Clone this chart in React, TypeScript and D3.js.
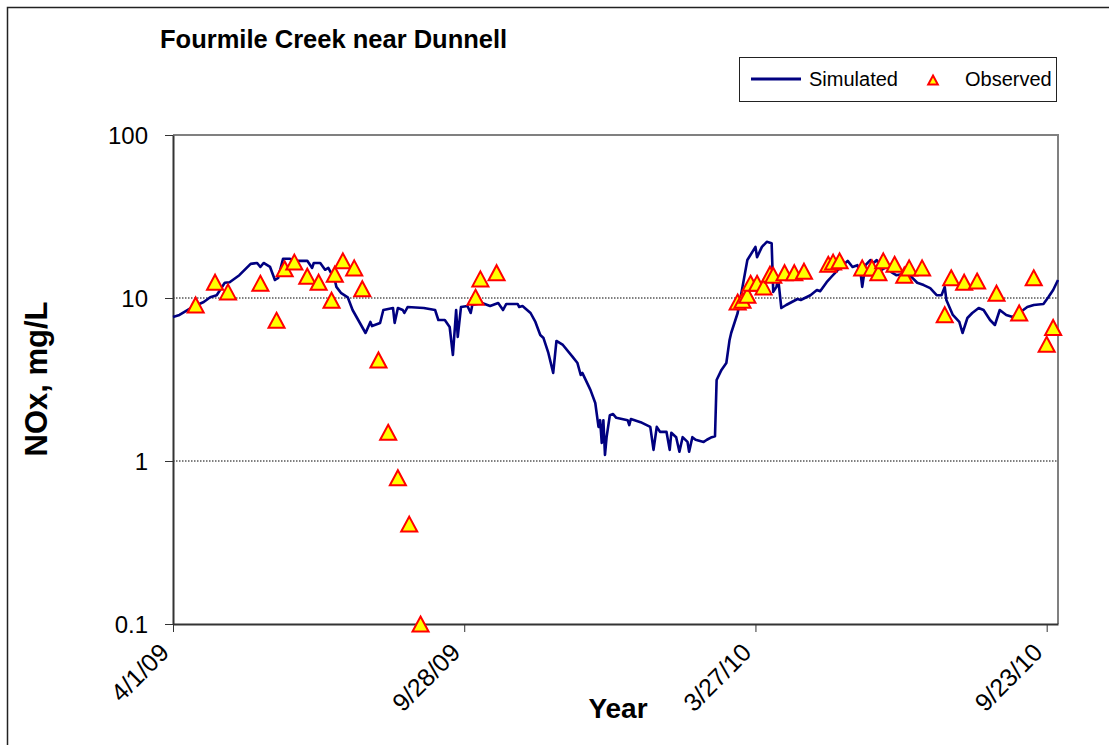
import { select, scaleLog, scaleUtc, axisLeft, axisBottom, line } from 'd3';
import { useEffect, useRef } from 'react';

// days counted from 4/1/09
const startDate = Date.UTC(2009, 3, 1);
const dayToDate = (d: number) => new Date(startDate + d * 86400000);
const lastDay = 547;

const simDays = [
  0, 4, 12, 19, 23, 27, 32, 35, 41, 48, 52, 54, 56, 60, 63, 65, 68, 72, 77, 83,
  86, 87, 91, 94, 96, 100, 101, 104, 108, 111, 119, 122, 123, 128, 130, 136, 137, 139, 142, 143,
  145, 155, 162, 164, 168, 171, 173, 175, 176, 178, 182, 184, 185, 191, 196, 201, 204, 206, 213, 214,
  216, 221, 224, 227, 229, 232, 235, 237, 241, 247, 250, 252, 253, 258, 261, 263, 264, 265, 266, 267,
  268, 270, 272, 274, 281, 282, 283, 289, 295, 297, 299, 301, 305, 307, 308, 311, 313, 315, 318, 319,
  321, 323, 328, 330, 333, 335, 336, 339, 342, 344, 345, 349, 352, 355, 360, 361, 364, 367, 370, 371,
  373, 374, 376, 379, 386, 388, 394, 398, 400, 404, 407, 411, 417, 420, 423, 425, 426, 428, 431, 433,
  435, 438, 441, 444, 447, 454, 457, 460, 464, 468, 472, 475, 477, 478, 482, 486, 488, 491, 494, 498,
  501, 505, 508, 511, 515, 519, 523, 528, 532, 538, 541, 544, 547
];
const simValues = [
  7.65, 7.87, 8.8, 9.45, 10.1, 10.4, 12.4, 12.5, 13.8, 16.2, 16.4, 15.5, 16.4, 15.5, 12.9, 13.3, 17.4, 17.4, 16.9, 16.9,
  15.3, 16.4, 16.4, 14.9, 15.3, 12.9, 11.7, 10.7, 10.1, 8.44, 6.1, 7.13, 6.73, 7.03, 8.44, 8.68, 7.03, 8.68, 8.44, 8.09,
  8.8, 8.68, 8.44, 7.33, 7.33, 6.64, 4.47, 8.44, 5.77, 8.8, 8.93, 8.09, 9.06, 9.32, 8.93, 9.32, 8.44, 9.19, 9.19, 8.8,
  8.93, 8.09, 7.13, 5.93, 5.68, 4.6, 3.47, 5.45, 5.15, 4.35, 3.99, 3.37, 3.47, 2.73, 2.27, 1.62, 1.78, 1.29, 1.78, 1.09,
  1.4, 1.91, 1.94, 1.84, 1.78, 1.66, 1.81, 1.73, 1.62, 1.17, 1.62, 1.51, 1.51, 1.17, 1.49, 1.4, 1.14, 1.4, 1.31, 1.14,
  1.4, 1.35, 1.31, 1.35, 1.4, 1.42, 3.14, 3.62, 3.99, 5.53, 6.1, 8.09, 11.7, 17.1, 20.6, 17.8, 20.6, 22.1, 21.7, 10.9,
  11.7, 13.3, 8.68, 9.06, 9.86, 9.72, 10.4, 11.2, 11.0, 12.5, 13.5, 14.9, 16.9, 15.5, 15.9, 14.2, 11.7, 15.9, 17.1, 16.4,
  17.1, 14.9, 15.5, 14.4, 13.8, 14.2, 13.3, 12.4, 12.0, 11.5, 10.4, 10.4, 11.7, 9.72, 7.87, 7.13, 6.1, 7.54, 8.09, 8.68,
  8.44, 7.33, 6.83, 8.44, 7.87, 7.65, 8.09, 8.8, 9.06, 9.19, 10.1, 11.2, 12.9
];

const obsDays = [
  14, 26, 34, 54, 64, 69, 75, 83, 90, 98, 100, 105, 112, 117, 127, 133, 139, 146, 153, 187,
  190, 200, 349, 352, 355, 357, 361, 365, 369, 371, 378, 384, 390, 405, 408, 412, 426, 432, 436, 439,
  446, 452, 455, 463, 477, 481, 489, 497, 509, 523, 532, 540, 544
];
const obsValues = [
  9.06, 12.5, 10.9, 12.3, 7.3, 15.1, 16.6, 13.6, 12.5, 9.7, 14.0, 16.9, 15.3, 11.4, 4.17, 1.5, 0.79, 0.41, 0.1, 10.1,
  13.1, 14.3, 9.45, 9.7, 10.4, 12.3, 12.3, 11.7, 14.0, 13.8, 14.3, 14.3, 14.6, 16.1, 16.6, 16.9, 15.3, 15.3, 14.3, 16.9,
  16.1, 13.8, 15.3, 15.3, 7.9, 13.3, 12.5, 12.7, 10.7, 8.1, 13.3, 5.2, 6.6
];

const xTickDays = [0, 180, 360, 540];
const xTickLabels = ['4/1/09', '9/28/09', '3/27/10', '9/23/10'];
const yTickValues = [0.1, 1, 10, 100];
const yTickLabels = ['0.1', '1', '10', '100'];

const FONT = '"Liberation Sans", Arial, sans-serif';
const NAVY = '#000080';
const tri = (s: number) => `M0,${-s}L${s * 1.07},${s}L${-s * 1.07},${s}Z`;

export default function App() {
  const svgRef = useRef<SVGSVGElement>(null);

  useEffect(() => {
    if (svgRef.current == null) return;
    const svg = select(svgRef.current);
    svg.selectAll('*').remove();

    const left = 173, right = 1058, top = 135, bottom = 624;
    const x = scaleUtc().domain([dayToDate(0), dayToDate(lastDay)]).range([left, right]);
    const y = scaleLog().domain([0.1, 100]).range([bottom, top]);

    // outer frame
    svg.append('rect').attr('x', 7.5).attr('y', 7.5).attr('width', 1120).attr('height', 760)
      .attr('fill', 'white').attr('stroke', '#222').attr('stroke-width', 1.5);

    svg.append('text').attr('x', 160).attr('y', 48).attr('font-family', FONT)
      .attr('font-size', 25.5).attr('font-weight', 'bold').text('Fourmile Creek near Dunnell');

    // gridlines
    svg.append('g').selectAll('line').data([1, 10]).enter().append('line')
      .attr('x1', left).attr('x2', right).attr('y1', d => y(d)).attr('y2', d => y(d))
      .attr('stroke', '#000').attr('stroke-width', 1).attr('stroke-dasharray', '1.5,1.5');

    // plot border top/right
    svg.append('path').attr('d', `M${left},${top}H${right}V${bottom}`)
      .attr('fill', 'none').attr('stroke', '#808080').attr('stroke-width', 2);

    const yAxis = svg.append('g').attr('transform', `translate(${left},0)`)
      .call(axisLeft(y).tickValues(yTickValues).tickFormat((d, i) => yTickLabels[i]).tickSize(8).tickSizeOuter(0));
    yAxis.select('.domain').attr('stroke', '#333').attr('stroke-width', 2);
    yAxis.selectAll('.tick line').attr('stroke', '#333').attr('stroke-width', 1);
    yAxis.selectAll('.tick text').attr('font-family', FONT).attr('font-size', 24).attr('fill', '#000')
      .attr('x', -25).attr('dy', '0.36em');

    const xAxis = svg.append('g').attr('transform', `translate(0,${bottom})`)
      .call(axisBottom(x).tickValues(xTickDays.map(dayToDate)).tickFormat((d, i) => xTickLabels[i]).tickSize(8).tickSizeOuter(0));
    xAxis.select('.domain').attr('stroke', '#333').attr('stroke-width', 2);
    xAxis.selectAll('.tick line').attr('stroke', '#333').attr('stroke-width', 1);
    xAxis.selectAll('.tick text').attr('font-family', FONT).attr('font-size', 25).attr('fill', '#000')
      .attr('y', 0).attr('dy', 0).attr('text-anchor', 'end')
      .attr('transform', 'translate(-3,30) rotate(-45)');

    // simulated
    svg.append('path').datum(simDays.map((d, i) => [d, simValues[i]] as [number, number]))
      .attr('fill', 'none').attr('stroke', NAVY).attr('stroke-width', 2.6).attr('stroke-linejoin', 'round')
      .attr('d', line<[number, number]>().x(d => x(dayToDate(d[0]))).y(d => y(d[1])));

    // observed
    svg.append('g').selectAll('path').data(obsDays.map((d, i) => [d, obsValues[i]] as [number, number]))
      .enter().append('path')
      .attr('transform', d => `translate(${x(dayToDate(d[0]))},${y(d[1])})`)
      .attr('d', tri(7.5)).attr('fill', '#FFFF00').attr('stroke', '#FF0000').attr('stroke-width', 2)
      .attr('stroke-linejoin', 'miter');

    // axis titles
    svg.append('text').attr('x', 618).attr('y', 718).attr('text-anchor', 'middle').attr('font-family', FONT)
      .attr('font-size', 28).attr('font-weight', 'bold').text('Year');
    svg.append('text').attr('transform', 'translate(47,379) rotate(-90)').attr('text-anchor', 'middle')
      .attr('font-family', FONT).attr('font-size', 31).attr('font-weight', 'bold').text('NOx, mg/L');

    // legend
    const lg = svg.append('g');
    lg.append('rect').attr('x', 739.5).attr('y', 57.5).attr('width', 317).attr('height', 44)
      .attr('fill', 'white').attr('stroke', '#222').attr('stroke-width', 1);
    lg.append('line').attr('x1', 751).attr('x2', 801).attr('y1', 79).attr('y2', 79)
      .attr('stroke', NAVY).attr('stroke-width', 3);
    lg.append('text').attr('x', 809).attr('y', 86).attr('font-family', FONT).attr('font-size', 20).text('Simulated');
    lg.append('path').attr('transform', 'translate(933,80)').attr('d', tri(4.5))
      .attr('fill', '#FFFF00').attr('stroke', '#FF0000').attr('stroke-width', 2);
    lg.append('text').attr('x', 965).attr('y', 86).attr('font-family', FONT).attr('font-size', 20).text('Observed');
  }, []);

  return (
    <svg ref={svgRef} width={1109} height={745}
      style={{ position: 'absolute', left: 0, top: 0, display: 'block', background: 'white' }} />
  );
}
